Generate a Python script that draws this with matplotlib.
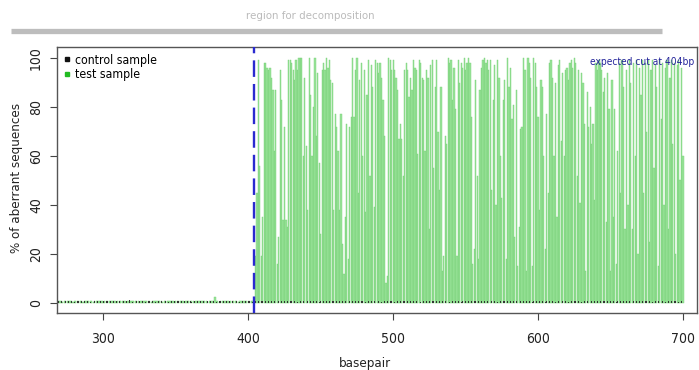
import numpy as np
import matplotlib
matplotlib.use("Agg")
import matplotlib.pyplot as plt
from matplotlib.lines import Line2D
import matplotlib.transforms as mtransforms

plt.rcParams['font.family'] = ['DejaVu Sans']
plt.rcParams['font.stretch'] = 'condensed'

# ---------------- data ----------------
start_bp = 268
cut_bp = 404
decomp_region = [236, 685.5]
x_ticks = [300, 400, 500, 600, 700]
y_ticks = [0, 20, 40, 60, 80, 100]

# control sample (% aberrant), basepair 268..700
control = [
    0.8, 0.6, 1.0, 0.7, 0.9, 0.5, 0.8, 1.1, 0.6, 0.7, 0.9, 0.8, 0.5, 1.0, 0.7, 0.6, 0.9, 0.8, 0.7, 1.0,
    0.6, 0.9, 0.7, 0.5, 0.8, 1.0, 0.6, 0.7, 0.9, 0.5, 0.8, 0.7, 1.0, 0.6, 0.8, 0.9, 0.5, 0.7, 0.8, 0.6,
    0.9, 0.7, 0.6, 1.0, 0.8, 0.5, 0.7, 0.9, 0.6, 0.8, 1.1, 0.7, 0.5, 0.8, 0.9, 0.6, 0.7, 1.0, 0.8, 0.6,
    0.7, 0.5, 0.9, 0.8, 0.6, 1.0, 0.7, 0.8, 0.5, 0.9, 0.6, 0.7, 0.8, 1.0, 0.6, 0.9, 0.7, 0.5, 0.8, 0.7,
    1.0, 0.6, 0.8, 0.7, 0.9, 0.5, 0.6, 0.8, 1.0, 0.7, 0.9, 0.6, 0.8, 0.5, 0.7, 1.0, 0.8, 0.6, 0.9, 0.7,
    0.5, 0.8, 0.9, 0.6, 0.7, 1.0, 0.8, 0.6, 0.7, 0.9, 0.5, 0.8, 0.6, 1.0, 0.7, 0.8, 0.9, 0.6, 0.5, 0.8,
    0.7, 0.9, 1.0, 0.6, 0.8, 0.7, 0.5, 0.9, 0.8, 0.6, 1.0, 0.7, 0.8, 0.6, 0.9, 0.5, 0.7, 0.8, 1.0, 0.6,
    0.9, 0.7, 0.8, 0.5, 0.6, 1.0, 0.8, 0.7, 0.9, 0.6, 0.8, 0.5, 0.7, 1.0, 0.6, 0.9, 0.8, 0.7, 0.5, 0.8,
    0.6, 1.0, 0.7, 0.9, 0.8, 0.6, 0.5, 0.8, 1.0, 0.7, 0.9, 0.6, 0.8, 0.7, 0.5, 1.0, 0.8, 0.6, 0.9, 0.7,
    0.8, 0.5, 0.9, 0.7, 1.0, 0.6, 0.8, 0.7, 0.6, 0.9, 1.0, 0.8, 0.5, 0.7, 0.9, 0.6, 0.8, 1.0, 0.7, 0.6,
    0.9, 0.8, 0.6, 0.7, 1.0, 0.5, 0.8, 0.9, 0.7, 0.6, 0.8, 1.0, 0.7, 0.5, 0.9, 0.8, 0.6, 0.7, 1.0, 0.8,
    0.6, 0.9, 0.7, 0.8, 0.5, 1.0, 0.6, 0.8, 0.9, 0.7, 0.6, 0.8, 1.0, 0.5, 0.7, 0.9, 0.8, 0.6, 0.7, 1.0,
    0.8, 0.6, 0.9, 0.5, 0.7, 0.8, 1.0, 0.6, 0.9, 0.7, 0.8, 0.5, 0.6, 1.0, 0.8, 0.7, 0.9, 0.6, 0.8, 0.7,
    1.0, 0.5, 0.8, 0.9, 0.6, 0.7, 0.8, 1.0, 0.6, 0.9, 0.7, 0.5, 0.8, 0.6, 1.0, 0.9, 0.7, 0.8, 0.6, 0.5,
    0.9, 0.7, 1.0, 0.8, 0.6, 0.7, 0.9, 0.5, 0.8, 1.0, 0.6, 0.7, 0.8, 0.9, 0.5, 1.0, 0.7, 0.6, 0.8, 0.9,
    0.7, 0.8, 0.6, 1.0, 0.5, 0.9, 0.7, 0.8, 0.6, 1.0, 0.8, 0.7, 0.5, 0.9, 0.6, 0.8, 1.0, 0.7, 0.9, 0.6,
    0.8, 0.5, 0.7, 1.0, 0.9, 0.6, 0.8, 0.7, 0.5, 1.0, 0.6, 0.8, 0.9, 0.7, 0.6, 1.0, 0.8, 0.5, 0.7, 0.9,
    0.6, 0.8, 1.0, 0.7, 0.5, 0.9, 0.8, 0.6, 0.7, 1.0, 0.8, 0.6, 0.9, 0.5, 0.7, 0.8, 1.0, 0.6, 0.9, 0.7,
    0.8, 0.6, 0.5, 1.0, 0.7, 0.9, 0.8, 0.6, 0.7, 1.0, 0.5, 0.8, 0.9, 0.6, 0.7, 0.8, 1.0, 0.6, 0.9, 0.5,
    0.7, 0.8, 0.6, 1.0, 0.9, 0.7, 0.5, 0.8, 0.6, 1.0, 0.7, 0.9, 0.8, 0.6, 0.5, 0.7, 1.0, 0.8, 0.9, 0.6,
    0.8, 0.7, 1.0, 0.5, 0.6, 0.9, 0.8, 0.7, 1.0, 0.6, 0.8, 0.5, 0.9, 0.7, 0.6, 1.0, 0.8, 0.7, 0.9, 0.6,
    0.5, 0.8, 1.0, 0.7, 0.9, 0.6, 0.8, 0.7, 1.0, 0.5, 0.6, 0.9, 0.8,
]

# test sample (% aberrant), basepair 268..403 (before cut)
test_before = [
    0.6, 0.9, 0.7, 1.0, 0.5, 0.8, 0.7, 0.9, 0.6, 1.0, 0.8, 0.5, 0.7, 0.9, 0.6, 0.8, 1.0, 0.7, 0.5, 0.8,
    0.9, 0.6, 0.7, 1.0, 0.8, 0.5, 0.9, 0.7, 0.6, 0.8, 1.0, 0.7, 0.5, 0.9, 0.8, 0.6, 0.7, 1.0, 0.9, 0.6,
    0.8, 0.5, 0.7, 1.0, 0.6, 0.9, 0.8, 0.7, 0.5, 1.0, 0.6, 0.8, 0.9, 0.7, 0.6, 1.0, 0.8, 0.5, 0.7, 0.9,
    0.6, 0.8, 1.0, 0.7, 0.9, 0.5, 0.8, 0.6, 1.0, 0.7, 0.9, 0.8, 0.6, 0.5, 1.0, 0.7, 0.8, 0.9, 0.6, 0.7,
    1.0, 0.5, 0.8, 0.9, 0.7, 0.6, 1.0, 0.8, 0.5, 0.7, 0.9, 0.6, 0.8, 1.0, 0.7, 0.5, 0.9, 0.8, 0.6, 0.7,
    1.0, 0.8, 0.6, 0.9, 0.5, 0.7, 1.0, 0.8, 0.6, 2.6, 0.9, 0.7, 0.5, 0.8, 1.0, 0.6, 0.7, 0.9, 0.8, 0.5,
    1.0, 0.7, 0.6, 0.9, 0.8, 0.5, 1.0, 0.7, 0.6, 0.8, 0.9, 0.7, 1.0, 0.6, 0.8, 0.9,
]

# test sample (% aberrant), basepair 404..700 (from cut site)
test_after = [
    0.5, 19, 45, 99, 56, 19, 35, 98, 98, 96, 95,
    96, 92, 87, 62, 87, 16, 27, 95, 83, 34,
    72, 34, 31, 99, 99, 98, 95, 91, 99, 95,
    100, 100, 100, 60, 92, 64, 38, 100, 85,
    60, 80, 100, 68, 94, 57, 28, 95, 98, 95,
    100, 96, 99, 91, 90, 38, 77, 72, 62, 38,
    77, 24, 12, 35, 73, 18, 72, 76, 100, 76,
    95, 100, 45, 91, 98, 60, 95, 37, 85, 99,
    52, 97, 88,
    39, 99, 98, 94, 98, 92, 83, 68, 8, 11,
    100, 99, 95, 99, 95, 92, 87, 67, 73, 67,
    52, 95, 98, 95, 84, 92, 87, 99, 96, 95,
    61, 99, 98, 92, 91, 62, 95, 92, 30, 97,
    99, 55, 88, 99, 70,
    46, 88, 13, 19, 68, 65, 100, 98, 99, 83,
    96, 79, 19, 99, 90, 98, 96, 100, 95, 98,
    100, 98, 76, 16, 22, 91, 52, 18, 87, 96,
    99, 100, 98, 99, 95, 99, 46, 83, 97, 40,
    99, 92, 60,
    43, 83, 91, 18, 100, 88, 96, 75, 81, 27,
    87, 15, 31, 71, 72, 100, 95, 13, 100, 98,
    92, 15, 100, 98, 88, 76, 38, 91, 88, 60,
    22, 77, 45, 98, 99, 92, 60, 90, 35, 97,
    99, 66, 94,
    60, 95, 96, 91, 98, 99, 96, 100, 98, 52,
    95, 41, 94, 90, 73, 13, 86, 72, 80, 65,
    73, 42, 98, 95, 99, 98, 95, 86, 92, 33,
    94, 79, 13, 91, 35, 79, 16, 62, 98, 45,
    99, 88, 30,
    95, 40, 99, 90, 30, 98, 60, 99, 20, 96,
    85, 99, 45, 98, 70, 99, 25, 95, 99, 55,
    97, 88, 15, 99, 75, 98, 40, 96, 99, 30,
    92, 99, 65, 98, 20, 97, 99, 50, 96, 60,
]

test = test_before + test_after
bp_test = np.arange(start_bp, start_bp + len(test))
bp_ctrl = np.arange(start_bp, start_bp + len(control))

# ---------------- figure ----------------
W, H = 699, 370
fig = plt.figure(figsize=(W / 100, H / 100), dpi=100)
ax = fig.add_axes([57 / W, 1 - 313 / H, (697 - 57) / W, (313 - 47) / H])

ax.bar(bp_test, test, width=0.85, color='#9ae49a', edgecolor='#76cf76', linewidth=0.3, zorder=2)
ax.bar(bp_ctrl, control, width=0.35, color='#333333', linewidth=0, zorder=3)

ax.axvline(cut_bp, color='#2a2ad0', lw=1.7, dashes=(7, 3), zorder=4)

ax.set_xlim(268, 709.7)
ax.set_ylim(-4.1, 104.5)
ax.set_xticks(x_ticks)
ax.set_xticklabels([str(t) for t in x_ticks])
ax.set_yticks(y_ticks)
ax.set_yticklabels([str(t) for t in y_ticks], rotation=90, va='center')
ax.tick_params(axis='both', length=5, width=0.8, color='#444444', labelsize=10, labelcolor='#222222')
ax.tick_params(axis='x', pad=9)
ax.tick_params(axis='y', pad=5)
for s in ax.spines.values():
    s.set_color('#555555')
    s.set_linewidth(1.0)

# legend
handles = [
    Line2D([], [], marker='s', linestyle='none', color='#111111', markersize=3.5),
    Line2D([], [], marker='s', linestyle='none', color='#22bb22', markersize=3.5),
]
ax.legend(handles, ['control sample', 'test sample'], loc='upper left', frameon=False,
          fontsize=8.8, handlelength=0.5, handletextpad=0.45, labelspacing=0.1,
          borderaxespad=0.2, borderpad=0.35)

# cut annotation
ax.text(636, 98.4, 'expected cut at 404bp', color='#23239a', fontsize=7.3,
        ha='left', va='center', clip_on=False, zorder=5)

# region for decomposition bar and title
trans = mtransforms.blended_transform_factory(ax.transData, ax.transAxes)
ax.plot(decomp_region, [1.06, 1.06], transform=trans, color='#bdbdbd', lw=3.8,
        solid_capstyle='butt', clip_on=False)
ax.text(443, 1.117, 'region for decomposition', transform=trans, color='#bbbbbb',
        fontsize=8.2, ha='center', va='center', clip_on=False)

fig.text(365 / W, 1 - 363 / H, 'basepair', ha='center', va='center', fontsize=9.5, color='#222222')
fig.text(17 / W, 1 - 178 / H, '% of aberrant sequences', ha='center', va='center',
         rotation=90, fontsize=9.5, color='#222222')

fig.savefig('out.png', dpi=100)
